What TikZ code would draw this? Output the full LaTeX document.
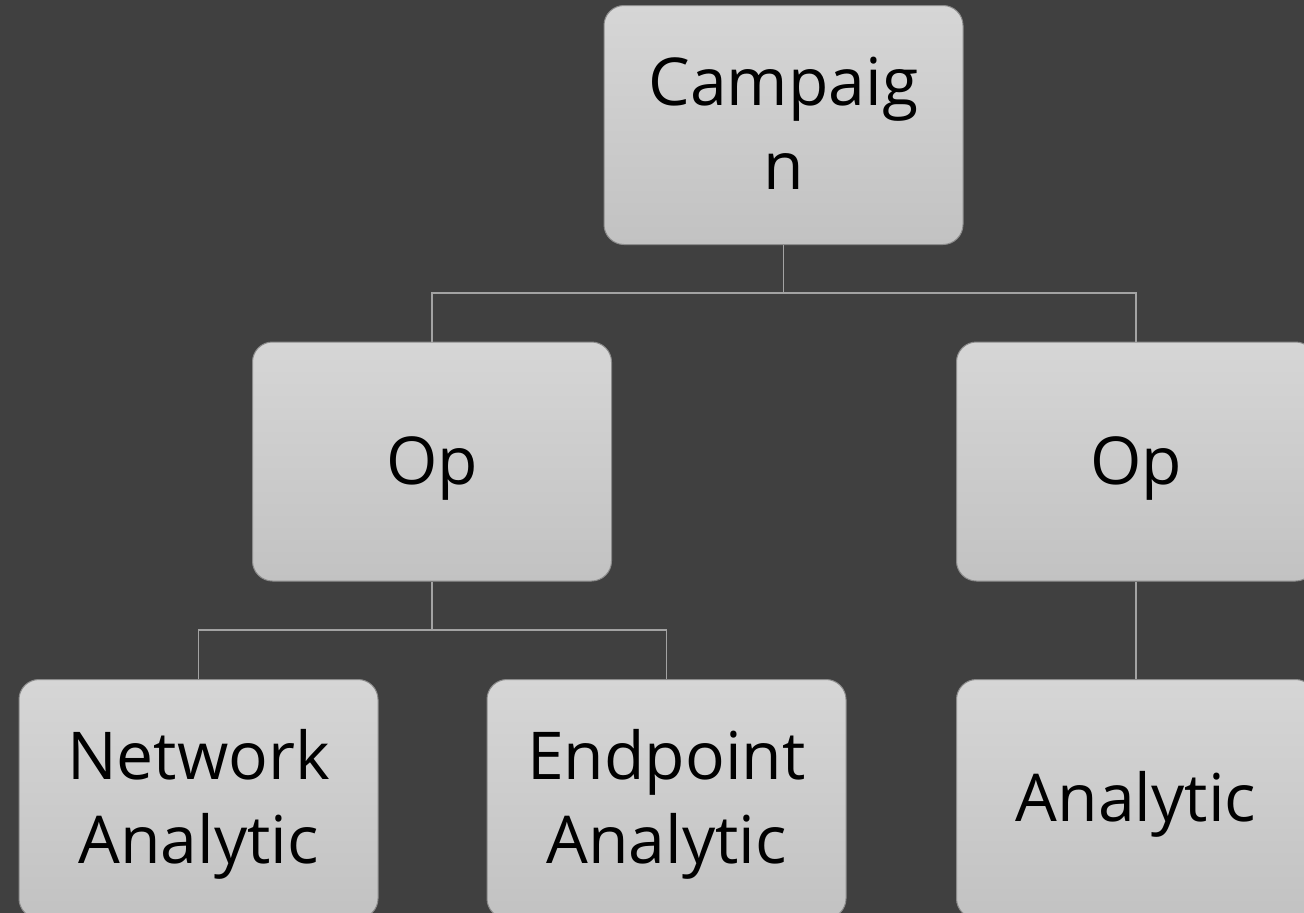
\documentclass[tikz,border=0pt]{standalone}
\usepackage{fontspec}
\setmainfont{Open Sans}
\definecolor{bg}{HTML}{404040}
\definecolor{boxtop}{HTML}{D6D6D6}
\definecolor{boxbot}{HTML}{C2C2C2}
\definecolor{boxline}{HTML}{8C8C8C}
\definecolor{wire}{HTML}{A3A3A3}
\newcommand{\boxlbl}[1]{\raisebox{-6pt}[\height][\depth]{\begin{tabular}{@{}c@{}}#1\end{tabular}}}
\tikzset{
  box/.style={draw=boxline, line width=1pt, rounded corners=20pt,
    top color=boxtop, bottom color=boxbot,
    minimum width=359pt, minimum height=239pt, inner sep=0pt,
    align=center, text=black,
    font=\fontsize{66}{84}\selectfont},
  wire/.style={draw=wire, line width=1.8pt}
}
\begin{document}
\begin{tikzpicture}[x=1pt,y=-1pt]
\useasboundingbox (0,0) rectangle (1304,913);
\clip (0,0) rectangle (1304,913);
\fill[bg] (0,0) rectangle (1304,913);
\node[box] (camp) at (783.5,125) {\boxlbl{Campaig\\n}};
\node[box] (opL) at (432,461.5) {\boxlbl{Op}};
\node[box] (opR) at (1136,461.5) {\boxlbl{Op}};
\node[box] (net) at (198.5,799) {\boxlbl{Network\\Analytic}};
\node[box] (end) at (666.5,799) {\boxlbl{Endpoint\\Analytic}};
\node[box] (ana) at (1136,799) {\boxlbl{Analytic}};
\coordinate (j1) at (783.5,293);
\coordinate (j2) at (432,630);
\draw[wire] (camp.south) -- (j1);
\draw[wire] (opL.north) |- (j1) -| (opR.north);
\draw[wire] (opL.south) -- (j2);
\draw[wire] (net.north) |- (j2) -| (end.north);
\draw[wire] (opR.south) -- (ana.north);
\end{tikzpicture}
\end{document}
